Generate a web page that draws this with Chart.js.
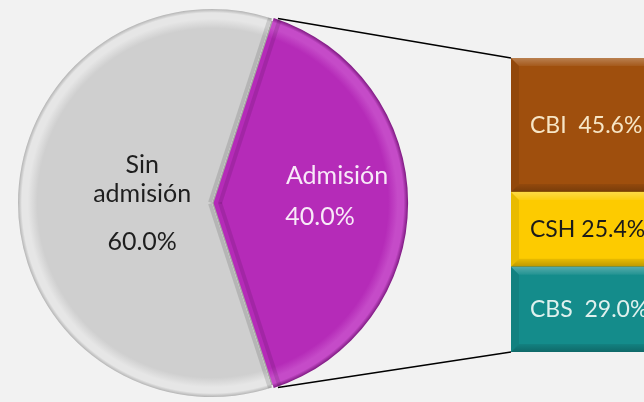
<!DOCTYPE html>
<html>
<head>
<meta charset="utf-8">
<script src="https://cdn.jsdelivr.net/npm/chart.js@4"></script>
<style>
  html, body { margin: 0; padding: 0; background: #f2f2f2; width: 644px; height: 402px; overflow: hidden; }
  #wrap { position: relative; width: 644px; height: 402px; overflow: hidden; }
  canvas { position: absolute; top: 0; }
  #lines { left: 0; }
  #pie { left: 0; }
  #bar { left: 500px; }
</style>
</head>
<body>
<div id="wrap">
  <canvas id="lines" width="644" height="402"></canvas>
  <canvas id="pie" width="424" height="402"></canvas>
  <canvas id="bar" width="200" height="402"></canvas>
</div>
<script>
// main pie
const categories = ["Admisión", "Sin admisión"];
const values = [40.0, 60.0];
// breakdown of "Admisión"
const subCategories = ["CBI", "CSH", "CBS"];
const subValues = [45.6, 25.4, 29.0];

const pieColors = [
  { base: "#b52bb8", light: "#c54bc8", dark: "#861f89" },
  { base: "#cfcfcf", light: "#e6e6e6", dark: "#b4b4b4" }
];
const subColors = ["#9f4f0d", "#fdcb00", "#148c8b"];
const subText = ["#f7e6c6", "#1a1a1a", "#dff1ee"];
const FONT = "Lato, 'Open Sans', sans-serif";

const pct = v => v.toFixed(1) + "%";

const pieFill = (c) => {
  const chart = c.chart;
  const ctrl = chart.getDatasetMeta(0).controller;
  const area = chart.chartArea;
  const r = ctrl.outerRadius;
  if (!area || !r) return pieColors[c.dataIndex].base;
  const cx = (area.left + area.right) / 2, cy = (area.top + area.bottom) / 2;
  const col = pieColors[c.dataIndex];
  const g = chart.ctx.createRadialGradient(cx, cy, 0, cx, cy, r);
  g.addColorStop(0, col.base);
  g.addColorStop(0.9, col.base);
  g.addColorStop(0.95, col.light);
  g.addColorStop(0.98, col.light);
  g.addColorStop(1, col.dark);
  return g;
};

// grey shadow where the exploded slice left its place
const pieGap = {
  id: "pieGap",
  beforeDatasetsDraw(chart) {
    const ctx = chart.ctx;
    chart.getDatasetMeta(0).data.forEach((arc) => {
      if (!arc.options.offset) return;
      ctx.save();
      ctx.fillStyle = "#a6a8a2";
      ctx.beginPath();
      ctx.moveTo(arc.x, arc.y);
      ctx.arc(arc.x, arc.y, arc.outerRadius - 2, arc.startAngle, arc.endAngle);
      ctx.closePath();
      ctx.fill();
      ctx.restore();
    });
  }
};

// darker band along the straight edges of the slices
const pieEdges = {
  id: "pieEdges",
  afterDatasetsDraw(chart) {
    const ctx = chart.ctx;
    chart.getDatasetMeta(0).data.forEach((arc, i) => {
      const mid = (arc.startAngle + arc.endAngle) / 2;
      const off = arc.options.offset;
      const x = arc.x + Math.cos(mid) * off, y = arc.y + Math.sin(mid) * off;
      const r = arc.outerRadius;
      ctx.save();
      ctx.beginPath();
      ctx.moveTo(x, y);
      ctx.arc(x, y, r, arc.startAngle, arc.endAngle);
      ctx.closePath();
      ctx.clip();
      ctx.strokeStyle = i === 0 ? "rgba(0,0,0,0.10)" : "rgba(0,0,0,0.12)";
      ctx.lineWidth = 8;
      [arc.startAngle, arc.endAngle].forEach(a => {
        ctx.beginPath();
        ctx.moveTo(x, y);
        ctx.lineTo(x + Math.cos(a) * r, y + Math.sin(a) * r);
        ctx.stroke();
      });
      ctx.restore();
    });
  }
};

const pieLabels = {
  id: "pieLabels",
  afterDraw(chart) {
    const ctx = chart.ctx;
    const meta = chart.getDatasetMeta(0);
    const layout = [
      { dist: 0.567, color: "#f8e9f8", lines: [[categories[0], 9, -27], [pct(values[0]), -8, 14]] },
      { dist: 0.36, color: "#1e1e1e", lines: [["Sin", 0, -38], ["admisión", 0, -9], [pct(values[1]), 0, 39]] }
    ];
    meta.data.forEach((arc, i) => {
      const mid = (arc.startAngle + arc.endAngle) / 2;
      const d = arc.options.offset + layout[i].dist * arc.outerRadius;
      const cx = arc.x + Math.cos(mid) * d, cy = arc.y + Math.sin(mid) * d;
      ctx.save();
      ctx.fillStyle = layout[i].color;
      ctx.font = "25px " + FONT;
      ctx.textAlign = "center";
      ctx.textBaseline = "middle";
      layout[i].lines.forEach(([t, dx, dy]) => ctx.fillText(t, cx + dx, cy + dy));
      ctx.restore();
    });
  }
};

const pieChart = new Chart(document.getElementById("pie"), {
  type: "pie",
  data: {
    labels: categories,
    datasets: [{
      data: values,
      backgroundColor: pieFill,
      borderWidth: 0,
      offset: [6, 0],
      hoverOffset: 0
    }]
  },
  options: {
    responsive: false,
    animation: false,
    events: [],
    rotation: 18,
    layout: { padding: { left: 15, right: 15, top: 6, bottom: 2 } },
    plugins: { legend: { display: false }, tooltip: { enabled: false } }
  },
  plugins: [pieGap, pieEdges, pieLabels]
});

// bevel look + labels on the bar
const barDeco = {
  id: "barDeco",
  afterDatasetsDraw(chart) {
    const ctx = chart.ctx;
    chart.data.datasets.forEach((ds, di) => {
      const bar = chart.getDatasetMeta(di).data[0];
      const l = bar.x - bar.width / 2, r = bar.x + bar.width / 2;
      const t = bar.y, b = bar.base;
      const k = 8;
      ctx.save();
      let g = ctx.createLinearGradient(0, t, 0, t + k);
      g.addColorStop(0, "rgba(255,255,255,0.28)");
      g.addColorStop(1, "rgba(255,255,255,0.06)");
      ctx.fillStyle = g;
      ctx.beginPath();
      ctx.moveTo(l, t); ctx.lineTo(r, t); ctx.lineTo(r, t + k); ctx.lineTo(l + k, t + k);
      ctx.closePath(); ctx.fill();
      g = ctx.createLinearGradient(0, b - k, 0, b);
      g.addColorStop(0, "rgba(0,0,0,0.08)");
      g.addColorStop(1, "rgba(0,0,0,0.25)");
      ctx.fillStyle = g;
      ctx.beginPath();
      ctx.moveTo(l, b); ctx.lineTo(r, b); ctx.lineTo(r, b - k); ctx.lineTo(l + k, b - k);
      ctx.closePath(); ctx.fill();
      ctx.fillStyle = "rgba(0,0,0,0.08)";
      ctx.beginPath();
      ctx.moveTo(l, t); ctx.lineTo(l + k, t + k); ctx.lineTo(l + k, b - k); ctx.lineTo(l, b);
      ctx.closePath(); ctx.fill();

      const idx = ds.subIndex;
      ctx.fillStyle = subText[idx];
      ctx.font = "23px " + FONT;
      ctx.textAlign = "left";
      ctx.textBaseline = "alphabetic";
      const gap = idx === 1 ? " " : "  ";
      ctx.fillText(subCategories[idx] + gap + pct(subValues[idx]), l + 19, (t + b) / 2 + 8);
      ctx.restore();
    });
  }
};

const barChart = new Chart(document.getElementById("bar"), {
  type: "bar",
  data: {
    labels: [""],
    datasets: subCategories.map((c, i) => ({
      label: c,
      subIndex: i,
      data: [subValues[i]],
      backgroundColor: subColors[i],
      borderWidth: 0,
      barPercentage: 1,
      categoryPercentage: 1
    })).reverse()
  },
  options: {
    responsive: false,
    animation: false,
    events: [],
    layout: { padding: { left: 11, top: 58, bottom: 50, right: 0 } },
    scales: {
      x: { display: false, stacked: true },
      y: { display: false, stacked: true, min: 0, max: 100 }
    },
    plugins: { legend: { display: false }, tooltip: { enabled: false } }
  },
  plugins: [barDeco]
});

// connector lines from the exploded slice to the bar
(function drawConnectors() {
  const lc = document.getElementById("lines").getContext("2d");
  const arc = pieChart.getDatasetMeta(0).data[0];
  const mid = (arc.startAngle + arc.endAngle) / 2;
  const off = arc.options.offset;
  const px = arc.x + Math.cos(mid) * off, py = arc.y + Math.sin(mid) * off;
  const r = arc.outerRadius;
  const barLeft = document.getElementById("bar").offsetLeft;
  const n = barChart.data.datasets.length;
  const topBar = barChart.getDatasetMeta(n - 1).data[0];
  const botBar = barChart.getDatasetMeta(0).data[0];
  const bx = barLeft + topBar.x - topBar.width / 2;
  lc.strokeStyle = "#000";
  lc.lineWidth = 1.5;
  lc.beginPath();
  lc.moveTo(px + Math.cos(arc.startAngle) * r, py + Math.sin(arc.startAngle) * r);
  lc.lineTo(bx, topBar.y);
  lc.moveTo(px + Math.cos(arc.endAngle) * r, py + Math.sin(arc.endAngle) * r);
  lc.lineTo(bx, botBar.base);
  lc.stroke();
})();
</script>
</body>
</html>
